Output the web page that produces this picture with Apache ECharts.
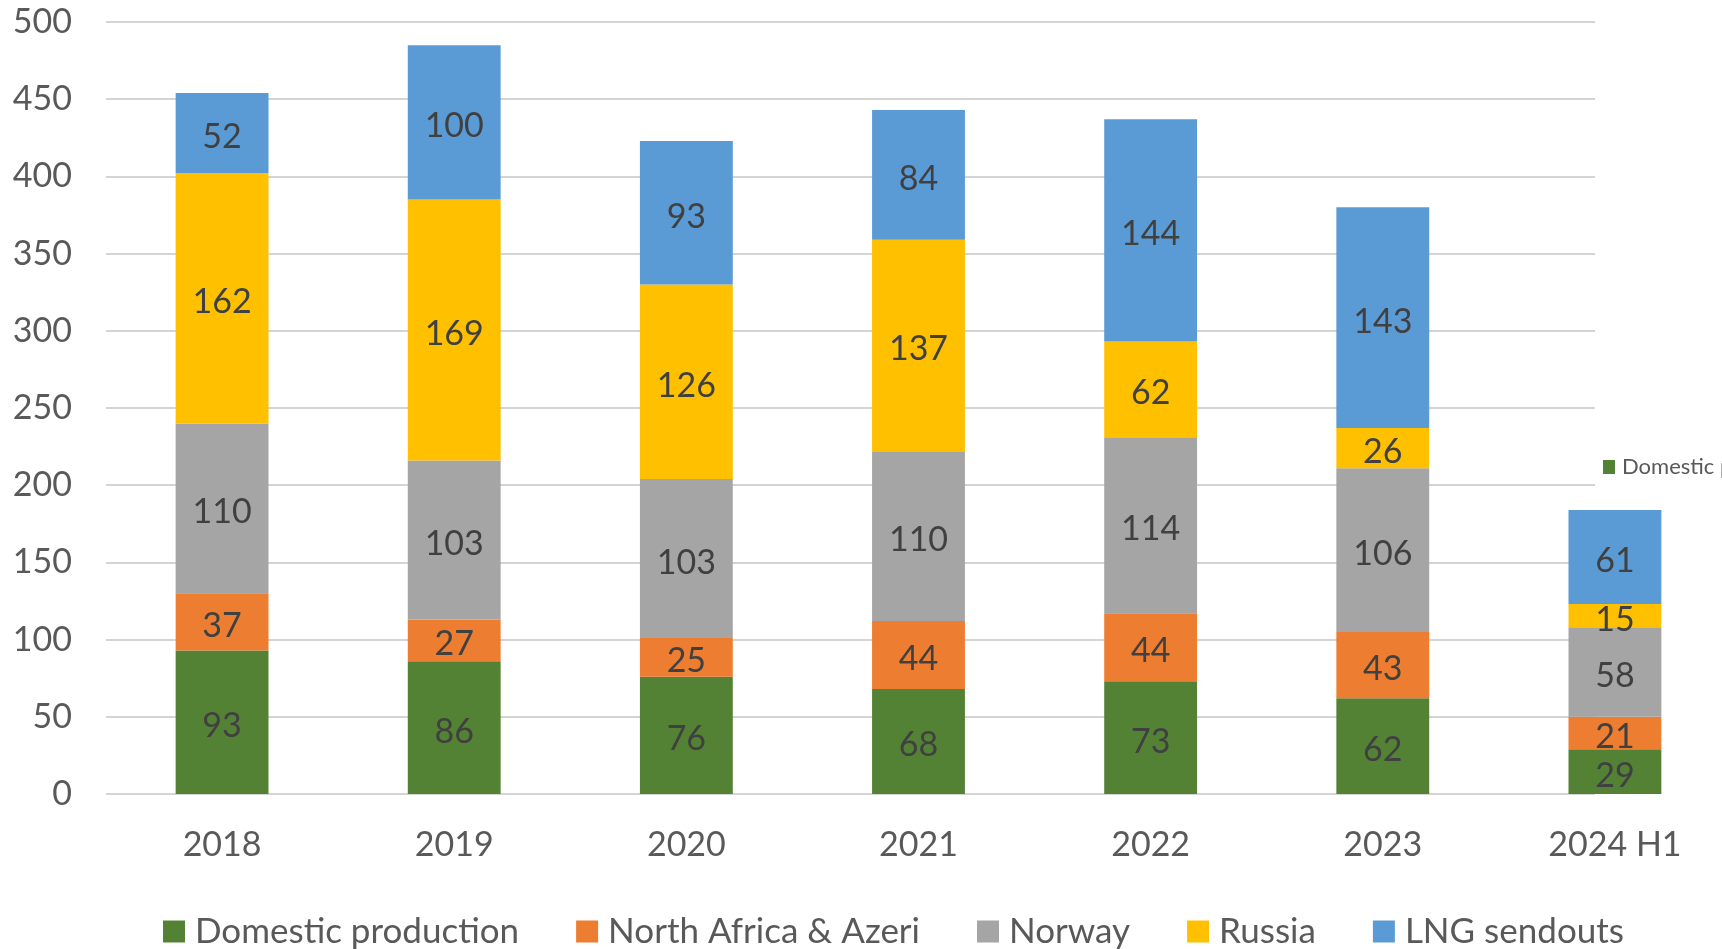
<!DOCTYPE html>
<html>
<head>
<meta charset="utf-8">
<script src="https://cdn.jsdelivr.net/npm/echarts@6/dist/echarts.min.js"></script>
<style>
  html, body { margin: 0; padding: 0; background: #ffffff; overflow: hidden; }
  #chart { width: 1740px; height: 949px; }
</style>
</head>
<body>
<div id="chart"></div>
<script>
// Gas supply by source, stacked per year
const categories = ['2018', '2019', '2020', '2021', '2022', '2023', '2024 H1'];
const domesticProduction = [93, 86, 76, 68, 73, 62, 29];
const northAfricaAzeri = [37, 27, 25, 44, 44, 43, 21];
const norway = [110, 103, 103, 110, 114, 106, 58];
const russia = [162, 169, 126, 137, 62, 26, 15];
const lngSendouts = [52, 100, 93, 84, 144, 143, 61];
const yTicks = { min: 0, max: 500, step: 50 };

const seriesDefs = [
  { name: 'Domestic production', data: domesticProduction, color: '#548235' },
  { name: 'North Africa & Azeri', data: northAfricaAzeri, color: '#ED7D31' },
  { name: 'Norway', data: norway, color: '#A5A5A5' },
  { name: 'Russia', data: russia, color: '#FFC000' },
  { name: 'LNG sendouts', data: lngSendouts, color: '#5B9BD5' }
];

const FONT = 'Lato';
const chart = echarts.init(document.getElementById('chart'));

const option = {
  backgroundColor: '#ffffff',
  animation: false,
  textStyle: { fontFamily: FONT },
  grid: [
    // bars
    { left: 106, top: 22, width: 1625, bottom: 155, containLabel: false },
    // gridlines only
    { left: 106, top: 22, width: 1489, bottom: 155, containLabel: false }
  ],
  legend: [
    {
      data: seriesDefs.map(s => s.name),
      left: 158,
      top: 909,
      itemWidth: 22,
      itemHeight: 22,
      itemGap: 57,
      icon: 'rect',
      textStyle: { fontFamily: FONT, fontSize: 35, color: '#595959', padding: [0, 0, 0, 5] }
    },
    {
      data: ['Domestic production'],
      left: 1598,
      top: 451,
      itemWidth: 12,
      itemHeight: 14,
      itemGap: 4,
      icon: 'rect',
      textStyle: { fontFamily: FONT, fontSize: 22, color: '#595959', padding: [0, 0, 0, 2] }
    }
  ],
  xAxis: [
    {
      type: 'category',
      gridIndex: 0,
      data: categories,
      axisLine: { show: false },
      axisTick: { show: false },
      axisLabel: { fontFamily: FONT, fontSize: 34, color: '#595959', margin: 34 }
    },
    {
      type: 'category',
      gridIndex: 1,
      data: categories,
      show: false
    }
  ],
  yAxis: [
    {
      type: 'value',
      gridIndex: 0,
      min: yTicks.min,
      max: yTicks.max,
      interval: yTicks.step,
      axisLine: { show: false },
      axisTick: { show: false },
      splitLine: { show: false },
      axisLabel: { fontFamily: FONT, fontSize: 34, color: '#595959', margin: 34 }
    },
    {
      type: 'value',
      gridIndex: 1,
      min: yTicks.min,
      max: yTicks.max,
      interval: yTicks.step,
      axisLine: { show: false },
      axisTick: { show: false },
      axisLabel: { show: false },
      splitLine: { show: true, lineStyle: { color: '#d4d4d4', width: 2 } }
    }
  ],
  series: seriesDefs.map(s => ({
    name: s.name,
    type: 'bar',
    stack: 'total',
    xAxisIndex: 0,
    yAxisIndex: 0,
    barWidth: '40%',
    data: s.data,
    itemStyle: { color: s.color },
    label: {
      show: true,
      position: 'inside',
      offset: [0, 4],
      fontFamily: FONT,
      fontSize: 34,
      color: '#404040'
    },
    z: 3
  }))
};

chart.setOption(option);
</script>
</body>
</html>
